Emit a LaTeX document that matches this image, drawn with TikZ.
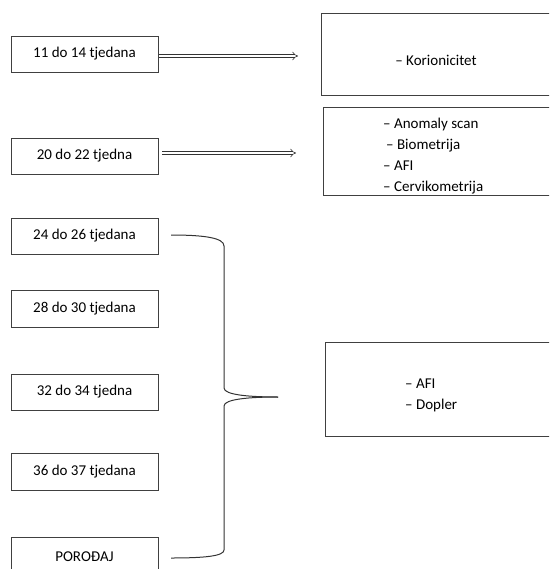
\documentclass[tikz,border=0pt]{standalone}
\usepackage{fontspec}
\setmainfont{Carlito}
\usetikzlibrary{arrows.meta}
\begin{document}
\begin{tikzpicture}[x=1pt,y=-1pt,
  lbox/.style={draw=black!75, line width=0.8pt, minimum width=147pt, minimum height=36pt, inner sep=0pt, font=\fontsize{15}{18}\selectfont},
  rbox/.style={draw=black!75, line width=0.8pt, inner sep=0pt},
  txt/.style={inner sep=0pt, font=\fontsize{15}{21}\selectfont, align=left},
  dblarrow/.style={draw=black!80, double, double distance=2.4pt, line width=0.6pt, -{Implies}},
  bracel/.style={draw=black!80, line width=1pt}
]
\useasboundingbox (0,0) rectangle (549,569);
\clip (0,0) rectangle (549,569);
% left boxes
\node[lbox] (b1) at (84.5,54) {11 do 14 tjedana};
\node[lbox] (b2) at (84.5,156) {20 do 22 tjedna};
\node[lbox] (b3) at (84.5,236) {24 do 26 tjedana};
\node[lbox, minimum height=37pt] (b4) at (84.5,308.5) {28 do 30 tjedana};
\node[lbox] (b5) at (84.5,392) {32 do 34 tjedna};
\node[lbox, minimum height=37pt] (b6) at (84.5,471.5) {36 do 37 tjedana};
\node[lbox, minimum height=40pt, text depth=0pt] (b7) at (84.5,557) {};
\node[txt] (t7) at (84.5,557) {POROĐAJ};
% right boxes
\node[rbox, minimum width=235pt, minimum height=82pt] (r1) at (438.5,54) {};
\node[txt] (tr1) at (436,60) {– Korionicitet};
\node[rbox, minimum width=233pt, minimum height=88pt] (r2) at (439.5,151) {};
\node[txt, anchor=north west] (tr2) at (383,118) {– Anomaly scan\\\hspace{3pt}– Biometrija\\– AFI\\– Cervikometrija};
\node[rbox, minimum width=230pt, minimum height=94pt] (r3) at (440,389) {};
\node[txt, anchor=north west] (tr3) at (405,379) {– AFI\\– Dopler};
% double arrows
\coordinate (a1s) at (159,56);
\coordinate (a1e) at (298,56);
\coordinate (a2s) at (162,153);
\coordinate (a2e) at (296,153);
\draw[dblarrow] (a1s) -- (a1e);
\draw[dblarrow] (a2s) -- (a2e);
% brace
\coordinate (btop) at (171,235);
\coordinate (bbot) at (171,558);
\coordinate (btip) at (278,397);
\draw[bracel] (btop) .. controls (205,235) and (224,238) .. (224,246)
  -- (224,388) .. controls (224,395) and (250,397) .. (btip);
\draw[bracel] (btip) .. controls (250,397) and (224,399) .. (224,406)
  -- (224,550) .. controls (224,556) and (205,558) .. (bbot);
\end{tikzpicture}
\end{document}
